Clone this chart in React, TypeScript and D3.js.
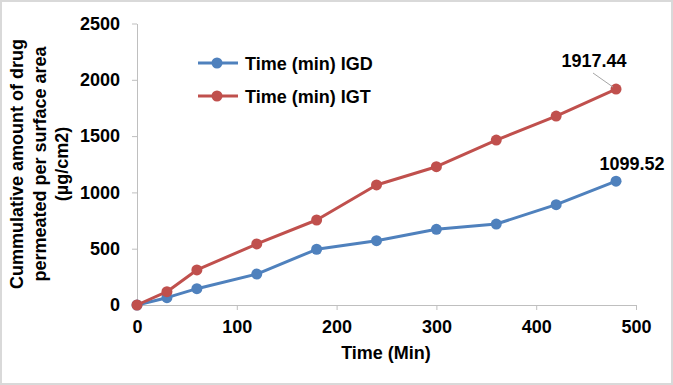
import React, { useEffect, useRef } from 'react';
import * as d3 from 'd3';

const times = [0, 30, 60, 120, 180, 240, 300, 360, 420, 480];
const igd = [0, 65, 145, 275, 495, 571, 672, 719, 891, 1099.52];
const igt = [0, 118, 311, 542, 755, 1066, 1228, 1465, 1678, 1917.44];
const xTicks = [0, 100, 200, 300, 400, 500];
const yTicks = [0, 500, 1000, 1500, 2000, 2500];
const seriesNames = ['Time (min) IGD', 'Time (min) IGT'];
const seriesColors = ['#4F81BD', '#C0504D'];
const yTitle = ['Cummulative amount of drug', 'permeated per surface area', '(µg/cm2)'];

const W = 673;
const H = 385;

const App: React.FC = () => {
  const svgRef = useRef<SVGSVGElement>(null);

  useEffect(() => {
    if (!svgRef.current) return;
    const svg = d3.select(svgRef.current);
    svg.selectAll('*').remove();

    const font = '"Liberation Sans", Arial, sans-serif';
    const fs = 18;

    svg.append('rect')
      .attr('x', 1).attr('y', 1)
      .attr('width', W - 2).attr('height', H - 2)
      .attr('fill', '#fff')
      .attr('stroke', '#d9d9d9')
      .attr('stroke-width', 2);

    const x = d3.scaleLinear().domain([0, 500]).range([137, 636]);
    const y = d3.scaleLinear().domain([0, 2500]).range([305, 23.5]);

    // y axis
    const yAxis = svg.append('g')
      .attr('transform', `translate(${x(0)},0)`)
      .call(d3.axisLeft(y).tickValues(yTicks).tickFormat(d3.format('d'))
        .tickSize(5).tickSizeOuter(0).tickPadding(12));
    yAxis.select('.domain').attr('stroke', '#bfbfbf');
    yAxis.selectAll('.tick line').attr('stroke', '#bfbfbf');
    yAxis.selectAll('.tick text')
      .attr('font-family', font).attr('font-size', fs).attr('font-weight', 'bold')
      .attr('fill', '#000');

    // x axis
    const xAxis = svg.append('g')
      .attr('transform', `translate(0,${y(0)})`)
      .call(d3.axisBottom(x).tickValues(xTicks).tickFormat(d3.format('d'))
        .tickSize(5).tickSizeOuter(0).tickPadding(10));
    xAxis.select('.domain').attr('stroke', '#bfbfbf');
    xAxis.selectAll('.tick line').attr('stroke', '#bfbfbf');
    xAxis.selectAll('.tick text')
      .attr('font-family', font).attr('font-size', fs).attr('font-weight', 'bold')
      .attr('fill', '#000');

    // axis titles
    svg.append('text')
      .attr('x', 386).attr('y', 359)
      .attr('text-anchor', 'middle')
      .attr('font-family', font).attr('font-size', fs).attr('font-weight', 'bold')
      .text('Time (Min)');

    const yt = svg.append('text')
      .attr('transform', 'translate(23,164) rotate(-90)')
      .attr('text-anchor', 'middle')
      .attr('font-family', font).attr('font-size', fs).attr('font-weight', 'bold');
    yTitle.forEach((t, i) => {
      yt.append('tspan').attr('x', 0).attr('y', i * 22.5).text(t);
    });

    // series
    const line = d3.line<number>()
      .x((_, i) => x(times[i]))
      .y(d => y(d));
    [igd, igt].forEach((vals, s) => {
      svg.append('path')
        .datum(vals)
        .attr('d', line)
        .attr('fill', 'none')
        .attr('stroke', seriesColors[s])
        .attr('stroke-width', 3)
        .attr('stroke-linejoin', 'round');
      svg.selectAll(null)
        .data(vals)
        .join('circle')
        .attr('cx', (_, i) => x(times[i]))
        .attr('cy', d => y(d))
        .attr('r', 5.5)
        .attr('fill', seriesColors[s]);
    });

    // data labels
    const lastIdx = times.length - 1;
    svg.append('line')
      .attr('x1', 593).attr('y1', 73)
      .attr('x2', x(times[lastIdx]) - 3).attr('y2', y(igt[lastIdx]) - 2)
      .attr('stroke', '#a6a6a6').attr('stroke-width', 1);
    svg.append('text')
      .attr('x', 594).attr('y', 67)
      .attr('text-anchor', 'middle')
      .attr('font-family', font).attr('font-size', fs).attr('font-weight', 'bold')
      .text(String(igt[lastIdx]));
    svg.append('text')
      .attr('x', 632).attr('y', 170)
      .attr('text-anchor', 'middle')
      .attr('font-family', font).attr('font-size', fs).attr('font-weight', 'bold')
      .text(String(igd[lastIdx]));

    // legend
    seriesNames.forEach((name, i) => {
      const ly = 63 + i * 33;
      svg.append('line')
        .attr('x1', 198).attr('x2', 238)
        .attr('y1', ly).attr('y2', ly)
        .attr('stroke', seriesColors[i]).attr('stroke-width', 3);
      svg.append('circle')
        .attr('cx', 217).attr('cy', ly).attr('r', 5.5)
        .attr('fill', seriesColors[i]);
      svg.append('text')
        .attr('x', 245).attr('y', ly + 6.5)
        .attr('font-family', font).attr('font-size', fs).attr('font-weight', 'bold')
        .text(name);
    });
  }, []);

  return (
    <svg
      ref={svgRef}
      width={W}
      height={H}
      style={{ position: 'absolute', left: 0, top: 0, display: 'block' }}
    />
  );
};

export default App;
